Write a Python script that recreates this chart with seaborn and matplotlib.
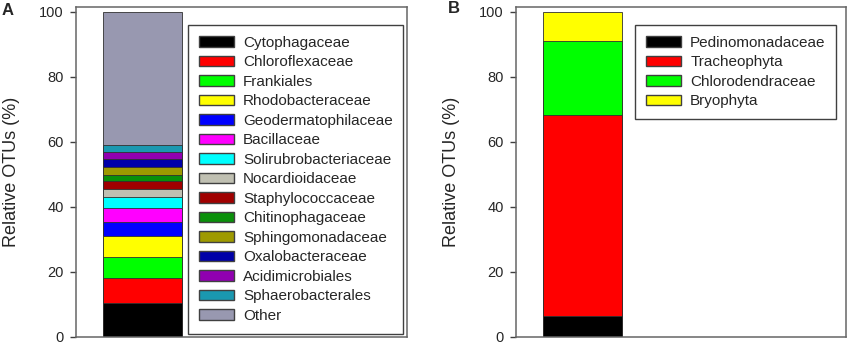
import numpy as np
import matplotlib
matplotlib.use('Agg')
import matplotlib.pyplot as plt
from matplotlib.patches import Patch
import seaborn as sns

# panel A - bacterial families
taxa_a = ['Cytophagaceae', 'Chloroflexaceae', 'Frankiales', 'Rhodobacteraceae',
          'Geodermatophilaceae', 'Bacillaceae', 'Solirubrobacteriaceae',
          'Nocardioidaceae', 'Staphylococcaceae', 'Chitinophagaceae',
          'Sphingomonadaceae', 'Oxalobacteraceae', 'Acidimicrobiales',
          'Sphaerobacterales', 'Other']
values_a = [10.4, 7.7, 6.6, 6.2, 4.3, 4.3, 3.5, 2.6, 2.2, 2.1, 2.3, 2.5, 2.0, 2.3, 41.0]
colors_a = ['#000000', '#ff0000', '#00ff00', '#ffff00', '#0000ff', '#ff00ff',
            '#00ffff', '#c0c0b2', '#a00000', '#0a900a', '#9e9a00', '#0000a8',
            '#9000b0', '#1a98b0', '#9898b0']

# panel B - plant groups
taxa_b = ['Pedinomonadaceae', 'Tracheophyta', 'Chlorodendraceae', 'Bryophyta']
values_b = [6.3, 61.8, 22.9, 9.0]
colors_b = ['#000000', '#ff0000', '#00ff00', '#ffff00']

sns.set_style('white')
plt.rcParams['font.family'] = ['Liberation Sans', 'DejaVu Sans']

fig = plt.figure(figsize=(8.51, 3.47), dpi=100)
ax_a = fig.add_axes([76 / 851, 10 / 347, 331 / 851, 330 / 347])
ax_b = fig.add_axes([516 / 851, 10 / 347, 330 / 851, 330 / 347])


def stacked_bar(ax, names, vals, cols, legend_x):
    tops = np.cumsum(vals)
    # draw tallest first so each lower segment sits on top of it
    for top, col in zip(tops[::-1], cols[::-1]):
        sns.barplot(x=['s'], y=[top], color=col, saturation=1, width=0.8,
                    edgecolor='#303030', linewidth=0.6, ax=ax)
    ax.set_xlim(-0.673, 2.679)
    ax.set_ylim(0, 101.4)
    ax.set_yticks(range(0, 101, 20))
    ax.set_xticks([])
    ax.set_xlabel('')
    ax.set_ylabel('Relative OTUs (%)', fontsize=13)
    ax.yaxis.set_label_coords(-0.169, 0.5)
    ax.tick_params(axis='y', direction='out', length=4.5, width=1,
                   color='#404040', labelsize=10.5, pad=4.5, left=True)
    for sp in ax.spines.values():
        sp.set_color('#666666')
        sp.set_linewidth(1.1)
    handles = [Patch(facecolor=c, edgecolor='#404040', linewidth=1) for c in cols]
    leg = ax.legend(handles, names, loc='upper left', bbox_to_anchor=(legend_x, 0.945),
                    borderaxespad=0, fontsize=11, handlelength=2.3, handleheight=0.72,
                    handletextpad=0.6, labelspacing=0.36, borderpad=0.7,
                    fancybox=False, framealpha=1, edgecolor='#404040')
    leg.get_frame().set_linewidth(1)


stacked_bar(ax_a, taxa_a, values_a, colors_a, 0.338)
stacked_bar(ax_b, taxa_b, values_b, colors_b, 0.361)

fig.text(2 / 851, 1 - 15 / 347, 'A', fontsize=12, fontweight='bold')
fig.text(448 / 851, 1 - 13 / 347, 'B', fontsize=12, fontweight='bold')

fig.savefig('out.png', dpi=100)
